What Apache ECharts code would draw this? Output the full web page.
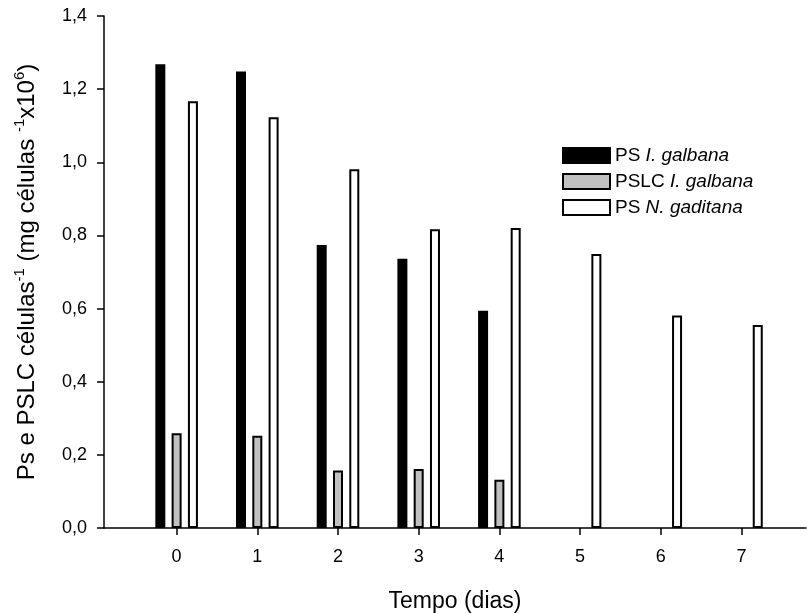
<!DOCTYPE html>
<html>
<head>
<meta charset="utf-8">
<script src="https://cdn.jsdelivr.net/npm/echarts@6/dist/echarts.min.js"></script>
<style>
  html, body { margin: 0; padding: 0; background: #fff; }
  #chart { width: 807px; height: 613px; }
</style>
</head>
<body>
<div id="chart"></div>
<script>
// Sampling days
const days = [0, 1, 2, 3, 4, 5, 6, 7];
// Dry weight per cell, I. galbana (days 0-4)
const psGalbana = [1.268, 1.248, 0.774, 0.736, 0.594];
// Lipid-free dry weight per cell, I. galbana (days 0-4)
const pslcGalbana = [0.259, 0.252, 0.157, 0.161, 0.132];
// Dry weight per cell, N. gaditana (days 0-7)
const psGaditana = [1.167, 1.123, 0.981, 0.817, 0.820, 0.749, 0.581, 0.555];
// Series names
const seriesNames = ['PS I. galbana', 'PSLC I. galbana', 'PS N. gaditana'];
// Legend text with the species names in italics
const legendText = {
  'PS I. galbana': '{n|PS }{i|I. galbana}',
  'PSLC I. galbana': '{n|PSLC }{i|I. galbana}',
  'PS N. gaditana': '{n|PS }{i|N. gaditana}'
};

const FONT = '"Liberation Sans", Arial, sans-serif';

const pair = (vals) => vals.map((v, i) => [days[i], v]);

const barStyle = (fill) => ({
  color: fill,
  borderColor: '#000',
  borderWidth: 2
});

const chart = echarts.init(document.getElementById('chart'), null, { renderer: 'canvas' });

chart.setOption({
  animation: false,
  backgroundColor: '#fff',
  textStyle: { fontFamily: FONT, color: '#000' },
  grid: { left: 104, right: 1, top: 16, bottom: 85, containLabel: false, outerBoundsMode: 'none' },
  legend: {
    orient: 'vertical',
    left: 557,
    top: 141,
    icon: 'rect',
    itemWidth: 47,
    itemHeight: 15,
    itemGap: 7,
    data: seriesNames,
    formatter: (name) => legendText[name],
    textStyle: {
      fontFamily: FONT,
      fontSize: 19,
      color: '#000',
      rich: {
        n: { fontFamily: FONT, fontSize: 19, color: '#000', lineHeight: 22 },
        i: { fontFamily: FONT, fontSize: 19, color: '#000', fontStyle: 'italic', lineHeight: 22 }
      }
    }
  },
  xAxis: {
    type: 'value',
    min: -0.9,
    max: 7.8,
    name: 'Tempo (dias)',
    nameLocation: 'middle',
    nameGap: 62,
    nameTextStyle: { fontFamily: FONT, fontSize: 23, color: '#000' },
    axisLine: { show: true, onZero: false, lineStyle: { color: '#000', width: 1.5 } },
    axisTick: { show: true, length: 7, customValues: days, lineStyle: { color: '#000', width: 1.5 } },
    axisLabel: {
      customValues: days,
      margin: 20,
      fontFamily: FONT,
      fontSize: 18,
      color: '#000',
      formatter: (v) => String(v)
    },
    splitLine: { show: false }
  },
  yAxis: {
    type: 'value',
    min: 0,
    max: 1.4,
    interval: 0.2,
    name: '{a|Ps e PSLC células}{s|-1}{a| (mg células }{s|-1}{a|x10}{s|6}{a|)}',
    nameLocation: 'middle',
    nameRotate: 90,
    nameGap: 62,
    nameTextStyle: {
      fontFamily: FONT,
      color: '#000',
      rich: {
        a: { fontFamily: FONT, fontSize: 24, color: '#000', lineHeight: 30 },
        s: { fontFamily: FONT, fontSize: 15, color: '#000', lineHeight: 30, verticalAlign: 'top' }
      }
    },
    axisLine: { show: true, onZero: false, lineStyle: { color: '#000', width: 1.5 } },
    axisTick: { show: true, length: 7, lineStyle: { color: '#000', width: 1.5 } },
    axisLabel: {
      margin: 17,
      fontFamily: FONT,
      fontSize: 18,
      color: '#000',
      formatter: (v) => v.toFixed(1).replace('.', ',')
    },
    splitLine: { show: false }
  },
  series: [
    {
      name: seriesNames[0],
      type: 'bar',
      barWidth: 10,
      barGap: '63%',
      itemStyle: barStyle('#000'),
      data: pair(psGalbana)
    },
    {
      name: seriesNames[1],
      type: 'bar',
      barWidth: 10,
      barGap: '63%',
      itemStyle: barStyle('#c0c0c0'),
      data: pair(pslcGalbana)
    },
    {
      name: seriesNames[2],
      type: 'bar',
      barWidth: 10,
      barGap: '63%',
      itemStyle: barStyle('#fff'),
      data: pair(psGaditana)
    }
  ]
});
</script>
</body>
</html>
